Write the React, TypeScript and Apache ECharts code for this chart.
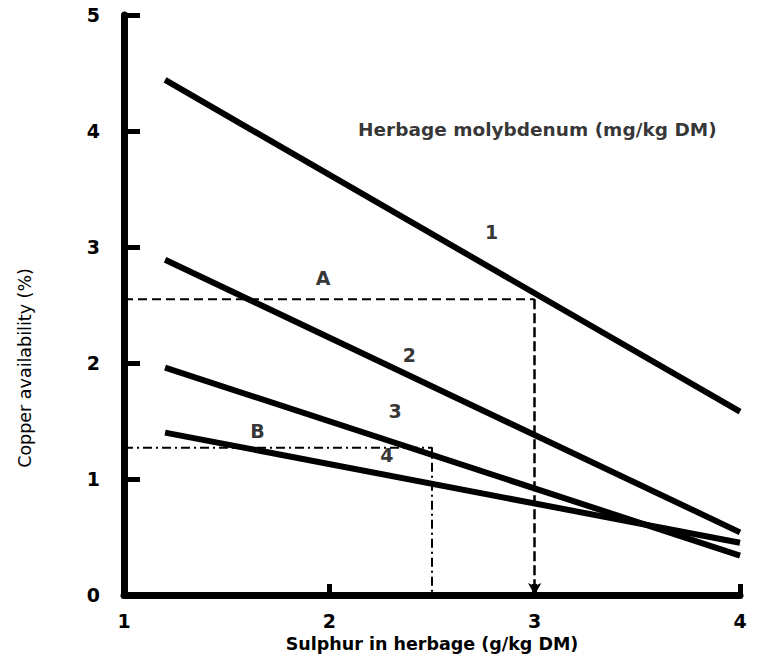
import React, { useEffect, useRef } from "react";
import * as echarts from "echarts";

// Molybdenum lines: start and end of each line over the sulphur range
const lineNames = ["1", "2", "3", "4"];
const sulphurRange = [1.2, 4.0];
const availStart = [4.44, 2.89, 1.96, 1.4];
const availEnd = [1.58, 0.54, 0.34, 0.45];

// Guide A (dashed) and guide B (dash-dot)
const guideA = { sulphur: 3.0, avail: 2.55 };
const guideB = { sulphur: 2.5, avail: 1.27 };

// Annotation labels (data coordinates)
const annoText = ["1", "A", "2", "3", "B", "4"];
const annoX = [2.79, 1.97, 2.39, 2.32, 1.65, 2.28];
const annoY = [3.13, 2.73, 2.07, 1.59, 1.41, 1.21];
const titleText = "Herbage molybdenum (mg/kg DM)";
const titlePos = [2.14, 4.01];

const xTicks = [1, 2, 3, 4];
const yTicks = [0, 1, 2, 3, 4, 5];

const FONT = "'DejaVu Sans', Verdana, sans-serif";
const INK = "#000000";

export default function App() {
  const ref = useRef<HTMLDivElement>(null);
  useEffect(() => {
    if (!ref.current) return;
    const chart = echarts.init(ref.current, undefined, { renderer: "svg" });
    const lineSeries = lineNames.map((n, i) => ({
      type: "line",
      name: "Mo " + n,
      data: [
        [sulphurRange[0], availStart[i]],
        [sulphurRange[1], availEnd[i]],
      ],
      symbol: "none",
      lineStyle: { color: INK, width: 6, cap: "butt" },
      silent: true,
      z: 3,
    }));
    const option: any = {
      animation: false,
      backgroundColor: "#ffffff",
      grid: { left: 124, right: 29, top: 15, bottom: 70 },
      xAxis: {
        type: "value",
        min: xTicks[0],
        max: xTicks[xTicks.length - 1],
        interval: 1,
        name: "Sulphur in herbage (g/kg DM)",
        nameLocation: "middle",
        nameGap: 40,
        nameTextStyle: { fontFamily: FONT, fontSize: 17.5, fontWeight: "bold", color: INK },
        axisLine: { show: true, lineStyle: { color: INK, width: 7 } },
        axisTick: { show: true, inside: true, length: 11, lineStyle: { color: INK, width: 5 } },
        axisLabel: { fontFamily: FONT, fontSize: 19, fontWeight: "bold", color: INK, margin: 16 },
        splitLine: { show: false },
      },
      yAxis: {
        type: "value",
        min: yTicks[0],
        max: yTicks[yTicks.length - 1],
        interval: 1,
        axisLine: { show: true, lineStyle: { color: INK, width: 7 } },
        axisTick: { show: true, inside: true, length: 16, lineStyle: { color: INK, width: 5 } },
        axisLabel: { fontFamily: FONT, fontSize: 19, fontWeight: "bold", color: INK, margin: 24 },
        splitLine: { show: false },
      },
      graphic: [
        {
          type: "text",
          x: 25,
          y: 368,
          rotation: Math.PI / 2,
          style: {
            text: "Copper availability (%)",
            fontFamily: FONT,
            fontSize: 17.5,
            fill: INK,
            textAlign: "center",
            textVerticalAlign: "middle",
          },
        },
      ],
      series: [
        ...lineSeries,
        {
          type: "line",
          name: "A horizontal",
          data: [
            [xTicks[0], guideA.avail],
            [guideA.sulphur, guideA.avail],
          ],
          symbol: "none",
          lineStyle: { color: INK, width: 2, type: [9, 5] },
          silent: true,
          z: 2,
          markLine: {
            silent: true,
            symbol: ["none", "arrow"],
            symbolSize: [10, 12],
            label: { show: false },
            lineStyle: { color: INK, width: 2.5, type: [10, 4] },
            data: [
              [
                { coord: [guideA.sulphur, guideA.avail] },
                { coord: [guideA.sulphur, 0] },
              ],
            ],
          },
        },
        {
          type: "line",
          name: "B guide",
          data: [
            [xTicks[0], guideB.avail],
            [guideB.sulphur, guideB.avail],
            [guideB.sulphur, 0],
          ],
          symbol: "none",
          lineStyle: { color: INK, width: 2, type: [9, 4, 2, 4] },
          silent: true,
          z: 2,
        },
        {
          type: "scatter",
          name: "labels",
          symbolSize: 0,
          silent: true,
          data: annoText.map((t, i) => ({ name: t, value: [annoX[i], annoY[i]] })),
          label: {
            show: true,
            position: "inside",
            formatter: "{b}",
            fontFamily: FONT,
            fontSize: 19,
            fontWeight: "bold",
            color: INK,
          },
          z: 5,
        },
        {
          type: "scatter",
          name: "title",
          symbolSize: 0,
          silent: true,
          data: [{ name: titleText, value: titlePos }],
          label: {
            show: true,
            position: "right",
            distance: 0,
            formatter: "{b}",
            fontFamily: FONT,
            fontSize: 18.5,
            fontWeight: "bold",
            color: INK,
          },
          z: 5,
        },
      ],
    };
    chart.setOption(option);
    return () => chart.dispose();
  }, []);
  return (
    <div
      ref={ref}
      style={{ position: "fixed", left: 0, top: 0, width: 769, height: 665, background: "#fff" }}
    />
  );
}
